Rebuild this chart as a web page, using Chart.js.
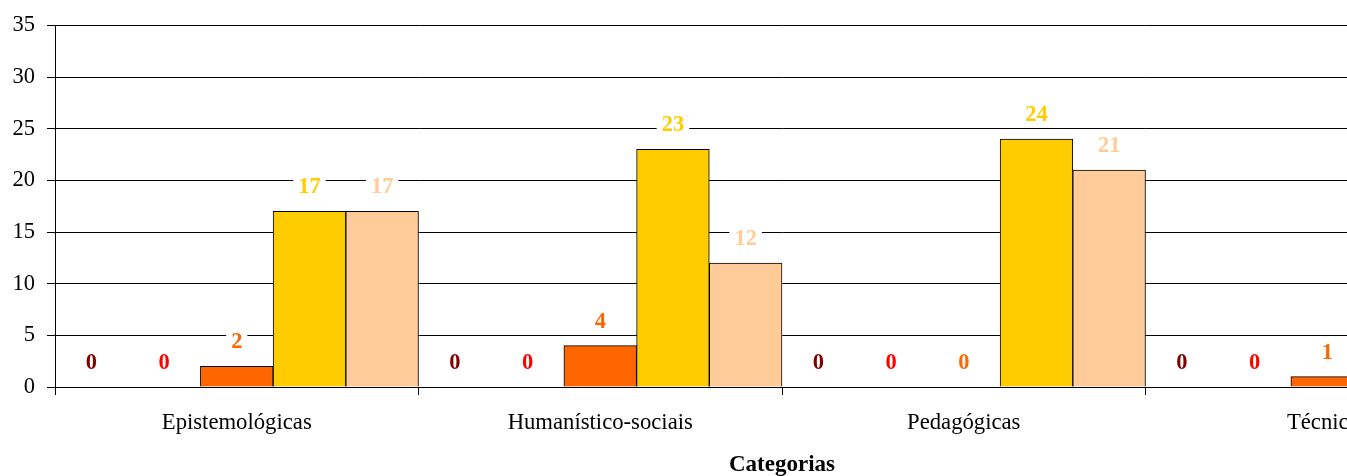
<!DOCTYPE html>
<html lang="pt">
<head>
<meta charset="utf-8">
<title>Categorias</title>
<script src="https://cdn.jsdelivr.net/npm/chart.js@4/dist/chart.umd.min.js"></script>
<style>
    html, body { margin: 0; padding: 0; background: #fff; overflow: hidden; }
    .frame { width: 1347px; height: 476px; overflow: hidden; position: relative; }
    canvas { display: block; }
</style>
</head>
<body>
<div class="frame">
    <canvas id="categoriasChart" width="1511" height="476"></canvas>
</div>
<script>
// Chart data.
const categories = ['Epistemológicas', 'Humanístico-sociais', 'Pedagógicas', 'Técnicas'];
const seriesNames = ['Série 1', 'Série 2', 'Série 3', 'Série 4', 'Série 5'];
const serie1 = [0, 0, 0, 0];
const serie2 = [0, 0, 0, 0];
const serie3 = [2, 4, 0, 1];
const serie4 = [17, 23, 24, 6];
const serie5 = [17, 12, 21, 9];
const yTicks = [0, 5, 10, 15, 20, 25, 30, 35];

const seriesColors = ['#800000', '#FF0000', '#FF6600', '#FFCC00', '#FFCC99'];
const serifFamily = '"Liberation Serif", "Times New Roman", serif';

// Value labels on a white box above each bar.
const valueLabels = {
    id: 'valueLabels',
    afterDatasetsDraw(chart) {
        const ctx = chart.ctx;
        ctx.save();
        ctx.font = `bold 22.5px ${serifFamily}`;
        ctx.textAlign = 'center';
        ctx.textBaseline = 'alphabetic';
        chart.data.datasets.forEach((ds, i) => {
            const meta = chart.getDatasetMeta(i);
            meta.data.forEach((bar, j) => {
                const text = String(ds.data[j]);
                const base = bar.y - 18;
                const w = ctx.measureText(text).width + 10;
                ctx.fillStyle = '#fff';
                ctx.fillRect(bar.x - w / 2, base - 21, w, 25);
                ctx.fillStyle = ds.backgroundColor;
                ctx.fillText(text, bar.x, base);
            });
        });
        ctx.restore();
    },
};

const seriesData = [serie1, serie2, serie3, serie4, serie5];
const datasets = seriesData.map((values, i) => ({
    label: seriesNames[i],
    data: values,
    backgroundColor: seriesColors[i],
    borderColor: '#000',
    borderWidth: 1,
    categoryPercentage: 1,
    barPercentage: 1,
}));

new Chart(document.getElementById('categoriasChart'), {
    type: 'bar',
    data: { labels: categories, datasets },
    options: {
        responsive: false,
        devicePixelRatio: 1,
        animation: false,
        layout: { padding: { top: 25, right: 2, bottom: 0, left: 0 } },
        plugins: {
            legend: { display: false },
            tooltip: { enabled: false },
        },
        scales: {
            x: {
                grid: { drawOnChartArea: false, drawTicks: true, tickLength: 8, color: '#000', lineWidth: 1 },
                border: { display: true, color: '#000', width: 1 },
                ticks: {
                    color: '#000',
                    font: { family: serifFamily, size: 22.7 },
                    padding: 14,
                    maxRotation: 0,
                    autoSkip: false,
                },
                title: {
                    display: true,
                    text: 'Categorias',
                    color: '#000',
                    font: { family: serifFamily, size: 23, weight: 'bold' },
                    padding: { top: 0, bottom: -3 },
                },
                afterFit(scale) {
                    scale.height = 89;
                },
            },
            y: {
                min: 0,
                max: 35,
                afterBuildTicks(scale) {
                    scale.ticks = yTicks.map((v) => ({ value: v }));
                },
                grid: { color: '#000', lineWidth: 1, tickLength: 8, drawTicks: true },
                border: { display: true, color: '#000', width: 1 },
                ticks: {
                    color: '#000',
                    font: { family: serifFamily, size: 22.5 },
                    padding: 12,
                },
                afterFit(scale) {
                    scale.width = 55;
                },
            },
        },
    },
    plugins: [valueLabels],
});
</script>
</body>
</html>
